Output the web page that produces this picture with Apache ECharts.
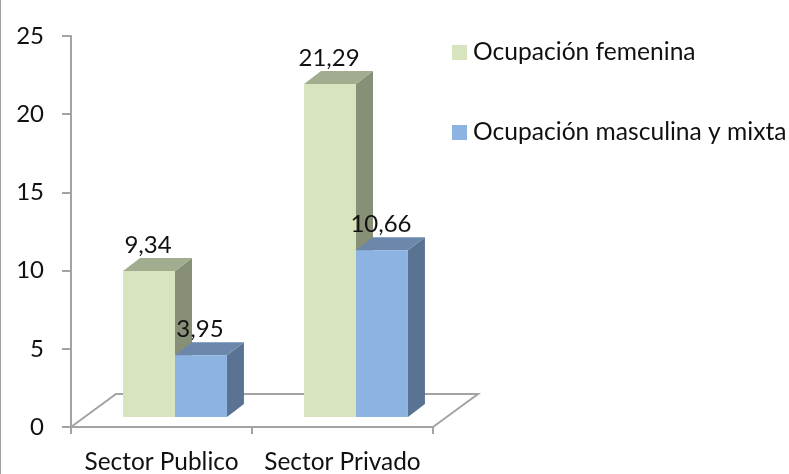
<!DOCTYPE html>
<html>
<head>
<meta charset="utf-8">
<script src="https://cdn.jsdelivr.net/npm/echarts@6/dist/echarts.min.js"></script>
<style>
  html, body { margin: 0; padding: 0; background: #fff; }
  #main { width: 789px; height: 474px; border-left: 1px solid #a0a0a0; box-sizing: border-box; }
</style>
</head>
<body>
<div id="main"></div>
<script>
var categories = ['Sector Publico', 'Sector Privado'];
var femenina = [9.34, 21.29];
var masculina = [3.95, 10.66];
var yTicks = [0, 5, 10, 15, 20, 25];

var FONT = 'Lato, "Noto Sans", sans-serif';
var AXIS_COLOR = '#a3a3a3';

// 3D look: bars sit a bit in front of the axis plane
var BAR_DEPTH = [17, -13];
var FLOOR_DEPTH = [45, -33];
var FRONT_DROP = -10;
var BAR_SHIFT = 13.5;

function comma(v) {
    return String(v).replace('.', ',');
}

function bar3d(serieIndex, front, top, side) {
    return function (params, api) {
        var cat = api.value(0);
        var val = api.value(1);
        var p = api.coord([cat, val]);
        var base = api.coord([cat, 0]);
        var width = api.size([1, 0])[0] * 0.287;
        var left = p[0] + BAR_SHIFT - (serieIndex === 0 ? width : 0);
        var right = left + width;
        var yBase = base[1] + FRONT_DROP;
        var yTop = p[1] + FRONT_DROP;
        var dx = BAR_DEPTH[0], dy = BAR_DEPTH[1];
        return {
            type: 'group',
            children: [
                { type: 'polygon', shape: { points: [[right, yTop], [right + dx, yTop + dy], [right + dx, yBase + dy], [right, yBase]] }, style: { fill: side } },
                { type: 'polygon', shape: { points: [[left, yTop], [left + dx, yTop + dy], [right + dx, yTop + dy], [right, yTop]] }, style: { fill: top } },
                { type: 'rect', shape: { x: left, y: yTop, width: width, height: yBase - yTop }, style: { fill: front } }
            ]
        };
    };
}

// value labels go in their own pass so they stay above every bar
function barLabel(serieIndex) {
    return function (params, api) {
        var cat = api.value(0);
        var val = api.value(1);
        var p = api.coord([cat, val]);
        var width = api.size([1, 0])[0] * 0.287;
        var left = p[0] + BAR_SHIFT - (serieIndex === 0 ? width : 0);
        return {
            type: 'text',
            style: {
                text: comma(val),
                x: left + width / 2 - 1,
                y: p[1] + FRONT_DROP - 26,
                align: 'center',
                verticalAlign: 'middle',
                font: '24px ' + FONT,
                fill: '#111'
            }
        };
    };
}

function floor(params, api) {
    var half = api.size([1, 0])[0] / 2;
    var a = api.coord([0, 0]);
    var b = api.coord([1, 0]);
    var dx = FLOOR_DEPTH[0], dy = FLOOR_DEPTH[1];
    var x0 = a[0] - half, x1 = b[0] + half;
    return {
        type: 'polyline',
        shape: { points: [[x0, a[1]], [x0 + dx, a[1] + dy], [x1 + dx, a[1] + dy], [x1, a[1]]] },
        style: { stroke: AXIS_COLOR, lineWidth: 2, fill: null }
    };
}

function toPairs(list) {
    return list.map(function (v, i) { return [i, v]; });
}

var myChart = echarts.init(document.getElementById('main'));

var option = {
    animation: false,
    textStyle: { fontFamily: FONT },
    grid: { left: 70, top: 36, width: 362, height: 391 },
    legend: {
        orient: 'vertical',
        left: 446,
        top: 35,
        itemWidth: 15,
        itemHeight: 15,
        itemGap: 55,
        icon: 'rect',
        data: ['Ocupación femenina', 'Ocupación masculina y mixta'],
        textStyle: { fontFamily: FONT, fontSize: 24.6, color: '#111', padding: [0, 0, 0, 1] }
    },
    xAxis: {
        type: 'category',
        data: categories,
        axisLine: { lineStyle: { color: AXIS_COLOR, width: 2 } },
        axisTick: { show: true, alignWithLabel: false, length: 7, lineStyle: { color: AXIS_COLOR, width: 2 } },
        axisLabel: { interval: 0, hideOverlap: false, fontSize: 24.4, color: '#111', margin: 23 }
    },
    yAxis: {
        type: 'value',
        min: yTicks[0],
        max: yTicks[yTicks.length - 1],
        interval: 5,
        splitLine: { show: false },
        axisLine: { show: true, lineStyle: { color: AXIS_COLOR, width: 2 } },
        axisTick: { show: true, length: 9, lineStyle: { color: AXIS_COLOR, width: 2 } },
        axisLabel: { fontSize: 24, color: '#111', margin: 27 }
    },
    series: [
        { type: 'custom', silent: true, z: 1, renderItem: floor, data: [[0, 0]] },
        {
            name: 'Ocupación femenina',
            type: 'custom',
            z: 2,
            renderItem: bar3d(0, '#d7e4bd', '#a2ad8f', '#878f77'),
            itemStyle: { color: '#d7e4bd' },
            data: toPairs(femenina)
        },
        {
            name: 'Ocupación masculina y mixta',
            type: 'custom',
            z: 3,
            renderItem: bar3d(1, '#8db3e2', '#6b88ac', '#5a7392'),
            itemStyle: { color: '#8db3e2' },
            data: toPairs(masculina)
        },
        { type: 'custom', silent: true, z: 5, renderItem: barLabel(0), data: toPairs(femenina) },
        { type: 'custom', silent: true, z: 5, renderItem: barLabel(1), data: toPairs(masculina) }
    ]
};

myChart.setOption(option);
</script>
</body>
</html>
